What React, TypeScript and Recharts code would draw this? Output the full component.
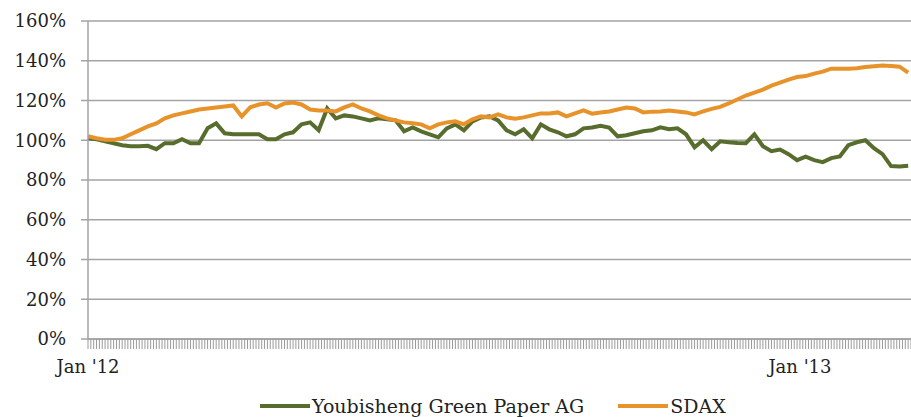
import { LineChart, Line, XAxis, YAxis, CartesianGrid, Legend } from 'recharts';

// trading-day index of each sample (every third trading day from Jan 2, 2012)
const days = [
  0, 3, 6, 9, 12, 15, 18, 21, 24, 27, 30, 33, 36, 39, 42, 45, 48, 51, 54, 57,
  60, 63, 66, 69, 72, 75, 78, 81, 84, 87, 90, 93, 96, 99, 102, 105, 108, 111, 114, 117,
  120, 123, 126, 129, 132, 135, 138, 141, 144, 147, 150, 153, 156, 159, 162, 165, 168, 171, 174, 177,
  180, 183, 186, 189, 192, 195, 198, 201, 204, 207, 210, 213, 216, 219, 222, 225, 228, 231, 234, 237,
  240, 243, 246, 249, 252, 255, 258, 261, 264, 267, 270, 273, 276, 279, 282, 285, 288,
];

const youbisheng = [
  101, 100.5, 99.5, 98.5, 97.5, 97, 97, 97.2, 95.5, 98.5, 98.5, 100.5, 98.5, 98.5, 106, 108.5, 103.5, 103, 103, 103,
  103, 100.5, 100.5, 103, 104, 108, 109, 105, 116, 111, 112.5, 112, 111, 110, 111, 110.5, 110, 104.5, 106.5, 104.5,
  103, 101.5, 106, 108, 105, 109.5, 111.5, 112, 110, 105, 103, 105.5, 101, 108, 105.5, 104, 102, 103, 106, 106.4,
  107.3, 106.4, 102, 102.5, 103.5, 104.5, 105, 106.5, 105.5, 106, 103, 96.5, 100, 95.5, 99.5, 99, 98.6, 98.5, 103, 97,
  94.5, 95.3, 93, 90, 91.8, 90, 89, 91, 91.8, 97.5, 99, 100, 96, 93, 87, 86.8, 87.2,
];

const sdax = [
  102, 101, 100.3, 100.2, 101, 103, 105, 107, 108.5, 111, 112.5, 113.5, 114.5, 115.5, 116, 116.5, 117, 117.5, 112, 116.6,
  118, 118.6, 116.5, 118.5, 119, 118, 115.5, 115, 115, 114.5, 116.5, 118, 116, 114.5, 112.5, 111, 110, 109, 108.5, 108,
  106, 108, 109, 109.5, 108, 110.5, 112, 111.5, 113, 111.5, 110.8, 111.5, 112.5, 113.5, 113.5, 114, 112, 113.5, 115, 113.4,
  114, 114.5, 115.5, 116.5, 116, 114, 114.4, 114.5, 115, 114.5, 114, 113, 114.5, 115.8, 116.8, 118.5, 120.5, 122.5, 124, 125.5,
  127.5, 129, 130.5, 131.8, 132.3, 133.5, 134.5, 136, 136, 136, 136.2, 136.8, 137.2, 137.6, 137.3, 137, 134,
];

const labelDays = [0, 250];
const labelTexts = ["Jan '12", "Jan '13"];
const yTicks = [0, 20, 40, 60, 80, 100, 120, 140, 160];
const seriesNames = ['Youbisheng Green Paper AG', 'SDAX'];

const GREEN = '#586c2e';
const ORANGE = '#e8922a';
const GRID = '#a3a3a3';
const FONT = '"DejaVu Serif", serif';

const data = days.map((d, i) => ({ day: d, youbisheng: youbisheng[i], sdax: sdax[i] }));
const dayTicks = Array.from({ length: 290 }, (_, i) => i);

// one small mark per trading day, text only at the year starts
function DayTick(props: any) {
  const { x, y, payload } = props;
  const k = labelDays.indexOf(payload.value);
  return (
    <g>
      <line x1={x} x2={x} y1={y - 8} y2={y + 2} stroke="#9a9a9a" strokeWidth={1} />
      {k >= 0 && (
        <text x={x} y={y + 26} textAnchor="middle" fill="#222" fontSize={18} fontFamily={FONT}>
          {labelTexts[k]}
        </text>
      )}
    </g>
  );
}

function ChartLegend() {
  const items = [
    { name: seriesNames[0], color: GREEN },
    { name: seriesNames[1], color: ORANGE },
  ];
  return (
    <div style={{ display: 'flex', height: 23, alignItems: 'center', paddingLeft: 260, fontFamily: FONT, fontSize: 19, color: '#222' }}>
      {items.map((it, i) => (
        <div key={it.name} style={{ display: 'flex', alignItems: 'center', marginRight: i === 0 ? 34 : 0 }}>
          <span style={{ display: 'inline-block', width: 50, height: 4, background: it.color, marginRight: 2 }} />
          <span>{it.name}</span>
        </div>
      ))}
    </div>
  );
}

export default function App() {
  return (
    <div style={{ position: 'absolute', left: 0, top: 0, background: '#fff' }}>
      <LineChart width={911} height={417} data={data} margin={{ top: 21, right: 0, bottom: 0, left: 0 }}>
        <CartesianGrid vertical={false} stroke={GRID} strokeWidth={1.5} />
        <XAxis
          dataKey="day"
          type="number"
          domain={[0, 289]}
          ticks={dayTicks}
          interval={0}
          height={55}
          tickLine={false}
          stroke={GRID}
          strokeWidth={1.5}
          tick={<DayTick />}
        />
        <YAxis
          domain={[0, 160]}
          ticks={yTicks}
          width={88}
          tickSize={7}
          tickMargin={15}
          stroke={GRID}
          strokeWidth={1.5}
          tick={{ fill: '#222', fontSize: 18, fontFamily: FONT }}
          tickFormatter={(v: number) => `${v}%`}
        />
        <Legend verticalAlign="bottom" content={() => <ChartLegend />} wrapperStyle={{ left: 0, width: 911 }} />
        <Line type="linear" dataKey="youbisheng" name={seriesNames[0]} stroke={GREEN} strokeWidth={4} dot={false} isAnimationActive={false} />
        <Line type="linear" dataKey="sdax" name={seriesNames[1]} stroke={ORANGE} strokeWidth={4} dot={false} isAnimationActive={false} />
      </LineChart>
    </div>
  );
}
